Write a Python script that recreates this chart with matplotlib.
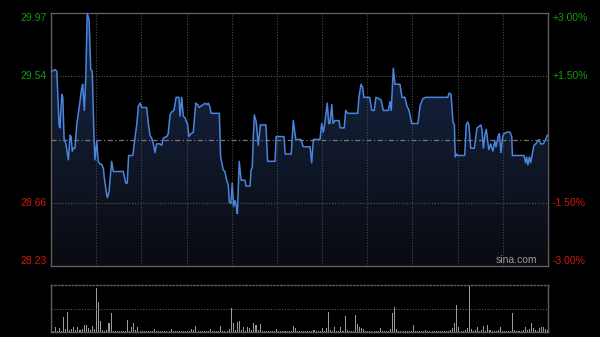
import numpy as np
import matplotlib
matplotlib.use("Agg")
import matplotlib.pyplot as plt
from matplotlib.colors import LinearSegmentedColormap

# intraday price (minute index from open, price)
minutes = [0.3, 1.9, 2.8, 3.9, 4.3, 5.2, 5.7, 6.3, 7.2, 8.4, 9.2, 9.7, 10.3, 10.8, 11.6,
           12.4, 13.7, 14.8, 15.3, 16.1, 16.8, 17.5, 18.4, 19.2, 19.9, 20.8, 21.2, 22.1,
           22.8, 23.7, 24.5, 25.3, 25.7, 26.6, 27.2, 28.0, 29.3, 30.1, 34.9, 36.1, 36.8,
           37.5, 39.5, 40.6, 41.4, 42.2, 43.0, 43.8, 46.2, 47.0, 47.8, 48.6, 49.4, 50.2,
           51.0, 52.6, 53.5, 54.2, 55.9, 56.6, 57.5, 58.3, 59.4, 60.4, 61.8, 62.3, 63.1,
           63.9, 64.7, 66.0, 66.6, 67.6, 68.7, 69.9, 70.8, 71.5, 72.4, 73.5, 74.4, 75.2,
           76.0, 76.8, 77.3, 81.3, 81.9, 83.2, 84.0, 84.8, 85.6, 86.1, 86.9, 87.5, 88.2,
           88.9, 89.5, 90.0, 90.9, 91.8, 93.7, 94.2, 96.1, 96.6, 97.2, 97.7, 98.2, 99.1,
           100.1, 101.1, 103.8, 104.6, 108.2, 108.7, 112.5, 113.1, 116.0, 117.0, 118.2,
           120.7, 121.8, 125.1, 125.9, 126.7, 129.9, 130.7, 131.5, 132.0, 133.4, 134.1,
           134.7, 135.6, 136.2, 137.1, 139.1, 139.6, 141.6, 142.3, 143.3, 148.1, 148.7,
           149.7, 150.5, 151.1, 153.9, 154.9, 156.1, 156.9, 158.4, 159.4, 160.5, 162.9,
           163.7, 164.3, 165.3, 166.1, 168.5, 169.5, 170.9, 171.9, 172.9, 174.2, 177.2,
           178.2, 179.5, 180.9, 191.6, 192.3, 193.2, 194.1, 194.8, 195.2, 195.9, 196.5,
           199.8, 200.5, 201.2, 201.8, 202.7, 204.4, 205.7, 206.8, 207.5, 208.1, 208.8,
           209.6, 210.2, 211.4, 212.3, 213.4, 214.3, 214.9, 215.9, 216.5, 217.3, 218.1,
           218.8, 220.1, 221.7, 222.5, 222.8, 228.4, 229.2, 229.7, 230.3, 231.0, 231.6,
           232.3, 233.2, 234.1, 235.7, 236.5, 237.7, 238.9, 239.7]
prices = [29.57, 29.58, 29.57, 29.20, 29.18, 29.41, 29.39, 29.11, 29.07, 28.96, 29.13, 29.12,
          29.02, 29.04, 29.04, 29.20, 29.33, 29.45, 29.48, 29.30, 29.53, 29.97, 29.92, 29.58,
          29.57, 29.10, 28.96, 29.09, 28.95, 28.93, 28.93, 28.90, 28.84, 28.75, 28.70, 28.74,
          28.95, 28.88, 28.88, 28.80, 28.80, 28.99, 28.99, 29.12, 29.20, 29.33, 29.35, 29.32,
          29.32, 29.21, 29.13, 29.11, 29.07, 29.01, 29.07, 29.07, 29.06, 29.11, 29.12, 29.14,
          29.27, 29.29, 29.30, 29.39, 29.39, 29.26, 29.39, 29.26, 29.25, 29.20, 29.12, 29.14,
          29.15, 29.35, 29.34, 29.32, 29.33, 29.34, 29.35, 29.34, 29.35, 29.32, 29.28, 29.28,
          28.98, 28.89, 28.88, 28.82, 28.79, 28.67, 28.66, 28.80, 28.64, 28.68, 28.64, 28.59,
          28.95, 28.82, 28.82, 28.78, 28.78, 28.89, 28.91, 29.12, 29.27, 29.22, 29.06, 29.20,
          29.20, 28.95, 28.95, 29.12, 29.12, 29.00, 29.00, 29.23, 29.10, 29.10, 29.05, 29.05,
          28.94, 29.10, 29.10, 29.21, 29.15, 29.19, 29.35, 29.21, 29.21, 29.34, 29.21, 29.23,
          29.23, 29.18, 29.18, 29.30, 29.28, 29.28, 29.39, 29.48, 29.46, 29.39, 29.39, 29.30,
          29.30, 29.39, 29.38, 29.37, 29.30, 29.30, 29.36, 29.30, 29.59, 29.48, 29.48, 29.39,
          29.39, 29.33, 29.30, 29.21, 29.21, 29.33, 29.38, 29.39, 29.39, 29.42, 29.41, 29.22,
          29.20, 28.98, 29.00, 28.99, 28.99, 29.20, 29.22, 29.20, 29.04, 29.04, 29.18, 29.19,
          29.20, 29.17, 29.04, 29.14, 29.17, 29.03, 29.07, 29.02, 29.09, 29.05, 29.12, 29.14,
          29.01, 29.12, 29.14, 29.15, 29.15, 29.12, 28.99, 28.99, 28.94, 28.98, 28.925, 28.98,
          28.94, 28.99, 29.06, 29.07, 29.10, 29.07, 29.07, 29.10, 29.13]

# volume per minute (lots)
volumes = [200, 150, 470, 120, 370, 150, 1470, 300, 2030, 200, 270, 470, 180, 470, 250, 300, 700, 700, 370, 200,
           600, 300, 4370, 3030, 1130, 200, 150, 250, 930, 1930, 150, 130, 100, 120, 80, 100, 150, 1200, 150, 470,
           930, 200, 530, 120, 100, 80, 90, 110, 100, 130, 270, 120, 90, 80, 100, 70, 110, 150, 270, 120,
           100, 90, 80, 70, 100, 90, 120, 150, 270, 200, 630, 150, 100, 80, 90, 70, 120, 270, 100, 80,
           90, 150, 630, 120, 100, 150, 270, 2370, 930, 200, 1030, 1130, 200, 530, 150, 530, 370, 200, 930, 700,
           200, 800, 150, 120, 100, 90, 100, 80, 120, 270, 100, 90, 80, 70, 100, 90, 150, 630, 370, 150,
           100, 100, 80, 70, 90, 80, 100, 200, 90, 120, 150, 370, 150, 370, 2030, 200, 150, 530, 120, 150,
           470, 150, 1600, 200, 120, 100, 150, 1700, 800, 530, 370, 270, 120, 100, 90, 80, 100, 120, 150, 370,
           120, 100, 90, 150, 270, 1870, 2470, 270, 120, 100, 90, 80, 100, 120, 150, 700, 120, 100, 90, 80,
           100, 200, 90, 80, 100, 70, 90, 100, 80, 120, 100, 90, 150, 200, 370, 870, 2700, 470, 150, 120,
           200, 430, 4700, 300, 150, 200, 470, 150, 200, 600, 150, 700, 200, 120, 100, 150, 200, 530, 120, 100,
           90, 130, 150, 1930, 200, 120, 100, 150, 200, 470, 200, 300, 870, 370, 200, 150, 370, 470, 530, 300, 250]

prev_close = 29.10
price_labels = ["29.97", "29.54", "28.66", "28.23"]
pct_labels = ["+3.00%", "+1.50%", "-1.50%", "-3.00%"]

W, H = 600, 337
fig = plt.figure(figsize=(6, 3.37), dpi=100, facecolor="black")
ax = fig.add_axes([51 / W, 1 - 266 / H, 497 / W, 253 / H])
vax = fig.add_axes([51 / W, 1 - 332 / H, 497 / W, 47 / H])

ymin, ymax = 28.23, 29.97
ax.set_facecolor("black")
ax.set_xlim(0, 240)
ax.set_ylim(ymin, ymax)

# gradient area under the line
cmap = LinearSegmentedColormap.from_list("fill", ["#090b10", "#18284a"])
grad = np.linspace(0, 1, 256).reshape(-1, 1)
poly = ax.fill_between(minutes, prices, ymin, color="none", lw=0)
img = ax.imshow(grad, extent=[0, 240, ymin, ymax], origin="lower", aspect="auto",
                cmap=cmap, zorder=1)
img.set_clip_path(poly.get_paths()[0], transform=ax.transData)

# grid
for k in range(1, 11):
    ax.axvline(k * 240 / 11, color="#4a4a4a", lw=0.8, ls=(0, (1, 1.5)), zorder=2)
for v in [29.54, 28.66]:
    ax.axhline(v, color="#555555", lw=0.8, ls=(0, (1, 1.5)), zorder=2)
ax.axhline(prev_close, color="#777777", lw=0.9, ls=(0, (4, 2, 1, 2)), zorder=2)

ax.plot(minutes, prices, color="#4a84dc", lw=1.1, zorder=3)

ax.set_xticks([])
ax.set_yticks([])
for s in ax.spines.values():
    s.set_color("#5f5f5f")
    s.set_linewidth(1)

# axis labels
green, red = "#149a14", "#cc1a0a"
ypos = [ymax, 29.54, 28.66, ymin]
vas = ["top", "center", "center", "bottom"]
offs = [-0.006, 0, 0, 0.006]
tr = ax.get_yaxis_transform()
for i in range(4):
    c = green if i < 2 else red
    ax.text(-0.008, ypos[i] + offs[i] * 0, price_labels[i], transform=tr, ha="right",
            va=vas[i], color=c, fontsize=7.5, family="Liberation Sans")
    ax.text(1.01, ypos[i], pct_labels[i], transform=tr, ha="left",
            va=vas[i], color=c, fontsize=7.5, family="Liberation Sans")

ax.text(0.978, 0.004, "sina.com", transform=ax.transAxes, ha="right", va="bottom",
        color="#9a9a9a", fontsize=7.5, family="Liberation Sans")

# volume panel
vax.set_facecolor("black")
vax.bar(range(len(volumes)), volumes, width=0.5, color="#9a9a9a", lw=0)
vax.set_xlim(0, 240)
vax.set_ylim(0, max(volumes))
vax.axhline(max(volumes) / 2, color="#5a5a5a", lw=0.8, ls=(0, (1, 1.5)))
vax.set_xticks([])
vax.set_yticks([])
for name, s in vax.spines.items():
    s.set_color("#5f5f5f")
    s.set_linewidth(1)
vax.spines["top"].set_linestyle((0, (1, 1.5)))

fig.savefig("out.png", dpi=100, facecolor="black")
